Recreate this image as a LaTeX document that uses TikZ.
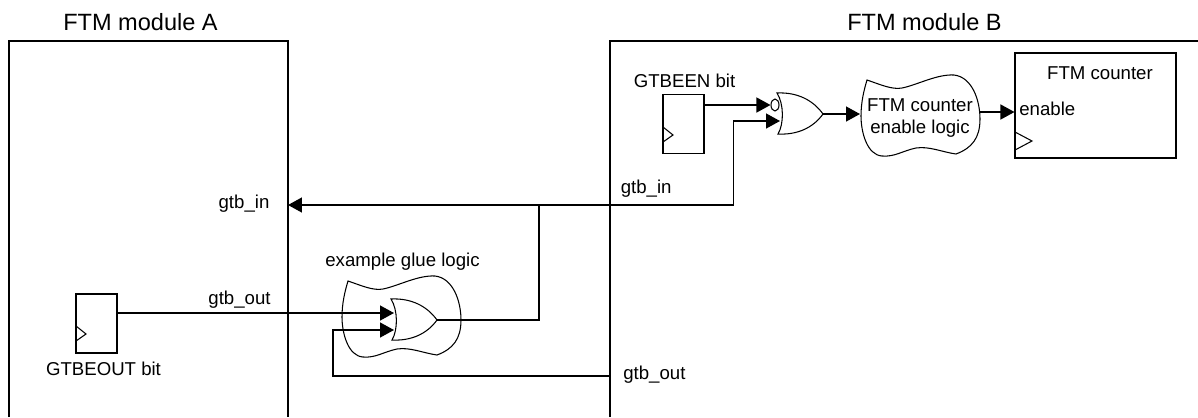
\documentclass[tikz,border=0pt]{standalone}
\usepackage{fontspec}
\setmainfont{Liberation Sans}
\usepackage{xcolor}
\usetikzlibrary{arrows.meta, positioning, shapes.geometric}
\tikzstyle{arrow} = [line width=0.8pt,-{Triangle[length=0.28cm,width=0.3cm]}]
\tikzstyle{wire} = [line width=0.6pt]
\tikzstyle{edge} = [line width=1.1pt]
\tikzstyle{label} = [inner sep=0pt, font=\fontsize{10.6}{12}\selectfont]
\tikzstyle{heading} = [inner sep=0pt, font=\fontsize{13.4}{16}\selectfont]
\tikzstyle{flop} = [draw=black, line width=0.6pt, rectangle, minimum width=0.82cm, minimum height=1.18cm, inner sep=0pt]
\tikzset{
  orgate/.pic={
    \draw[line width=0.6pt] (0,-21) .. controls (7,-10) and (7,10) .. (1,20)
      .. controls (20,21) and (36,14) .. (46,0)
      .. controls (36,-14) and (20,-22) .. (0,-21) -- cycle;
  },
  gluecloud/.pic={
    \draw[line width=0.6pt] (0,0) .. controls (12,4) and (25,10) .. (35,8)
      .. controls (50,5) and (70,-6) .. (87,-5)
      .. controls (105,-3) and (113,20) .. (113,39)
      .. controls (113,58) and (105,68) .. (89,74)
      .. controls (75,72) and (62,66) .. (49,68)
      .. controls (35,71) and (28,77) .. (15,76)
      .. controls (0,75) and (-6,52) .. (-6,36)
      .. controls (-6,22) and (-3,10) .. (0,0) -- cycle;
  }
}
\begin{document}
\begin{tikzpicture}[x=0.02cm,y=-0.02cm]
    \useasboundingbox (0,0) rectangle (1198,417);

    % Modules
    \draw[edge] (9,417) -- (9,41) -- (288,41) -- (288,417);
    \draw[edge] (610,417) -- (610,41) -- (1198,41);
    \node[heading] (moduleA) at (140.5,22) {FTM module A};
    \node[heading] (moduleB) at (924.5,22) {FTM module B};

    % Flops
    \node[flop] (beout) at (96.5,323.5) {};
    \node[flop] (been) at (683.5,124) {};
    \node[flop, minimum width=3.22cm, minimum height=2.1cm] (counter) at (1095.5,105.5) {};
    \draw[line width=0.6pt] (76,326) -- (86,334) -- (76,341);
    \draw[line width=0.6pt] (663,127) -- (673,135) -- (663,142);
    \draw[line width=0.6pt] (1015,132) -- (1032,141) -- (1015,150);
    \node[label] (beoutlabel) at (103.5,369) {GTBEOUT bit};
    \node[label] (beenlabel) at (684.5,81) {GTBEEN bit};
    \node[label] (countername) at (1100,73) {FTM counter};
    \node[label, anchor=west] (enablelabel) at (1019,109) {enable};

    % Gates and clouds
    \pic at (348,281) {gluecloud};
    \pic at (867,80) {gluecloud};
    \pic at (391,320) {orgate};
    \pic at (777,114) {orgate};
    \node[draw, ellipse, line width=0.6pt, minimum width=0.16cm, minimum height=0.24cm, inner sep=0pt] (bubble) at (775,105) {};
    \node[label] (gluelabel) at (402.5,262) {example glue logic};
    \node[label, align=center] (enablelogic) at (920,118) {FTM counter\\enable logic};

    % Pins
    \coordinate (inA) at (288,205);
    \coordinate (tap) at (539,205);
    \coordinate (turn) at (733.5,205);
    \coordinate (glueinA) at (394,313);
    \coordinate (glueinB) at (394,330);
    \coordinate (glueout) at (437,320);
    \coordinate (backB) at (610,376);
    \coordinate (backturn) at (333,330);
    \coordinate (norinB) at (780,121);
    \coordinate (norout) at (823,114);
    \coordinate (cloudin) at (860,114);
    \coordinate (cloudout) at (979,112);

    % Connectors
    \draw[arrow] (turn) -- (inA);
    \draw[arrow] (turn) |- (norinB);
    \draw[arrow] (been.east |- bubble) -- (bubble.west);
    \draw[arrow] (norout) -- (cloudin);
    \draw[arrow] (cloudout) -- (counter.west |- cloudout);
    \draw[arrow] (beout.east |- glueinA) -- (glueinA);
    \draw[arrow] (backB) -| (backturn) -- (glueinB);
    \draw[wire] (glueout) -| (tap);

    % Signal names
    \node[label] (gtbinA) at (244,204) {gtb\_in};
    \node[label] (gtboutA) at (239.5,300) {gtb\_out};
    \node[label, anchor=west] (gtbinB) at (620.5,189) {gtb\_in};
    \node[label, anchor=west] (gtboutB) at (623,375) {gtb\_out};
\end{tikzpicture}
\end{document}
